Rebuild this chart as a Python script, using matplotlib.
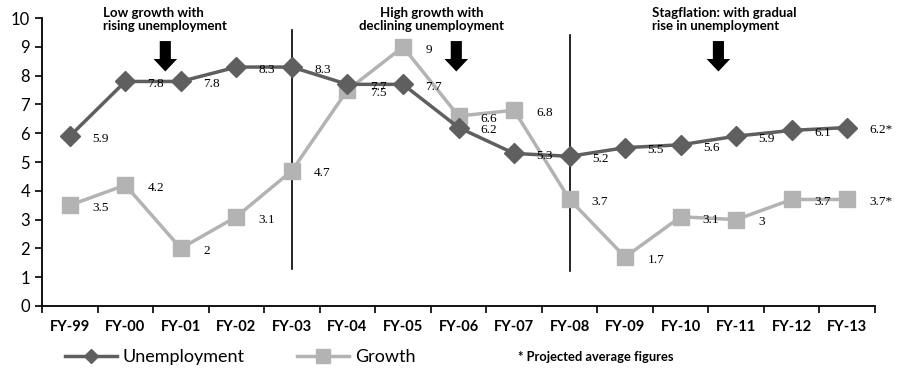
import matplotlib.pyplot as plt
from matplotlib.lines import Line2D

years = ['FY-99', 'FY-00', 'FY-01', 'FY-02', 'FY-03', 'FY-04', 'FY-05', 'FY-06',
         'FY-07', 'FY-08', 'FY-09', 'FY-10', 'FY-11', 'FY-12', 'FY-13']
unemployment = [5.9, 7.8, 7.8, 8.3, 8.3, 7.7, 7.7, 6.2, 5.3, 5.2, 5.5, 5.6, 5.9, 6.1, 6.2]
growth = [3.5, 4.2, 2, 3.1, 4.7, 7.5, 9, 6.6, 6.8, 3.7, 1.7, 3.1, 3, 3.7, 3.7]

dark = '#5f5f5f'
light = '#b3b3b3'

fig = plt.figure(figsize=(8.98, 3.70), dpi=100)
ax = fig.add_axes([0.0468, 0.173, 0.9276, 0.778])

x = list(range(len(years)))
ax.plot(x, unemployment, color=dark, lw=2.5, marker='D', ms=10, zorder=3)
ax.plot(x, growth, color=light, lw=2.5, marker='s', ms=11, zorder=2)

# value labels to the right of every point, last one flagged as projected
for i, (u, g) in enumerate(zip(unemployment, growth)):
    star = '*' if i == len(years) - 1 else ''
    for v in (u, g):
        ax.annotate(f'{v:g}' + star, (i, v), xytext=(16, -2), textcoords='offset points',
                    va='center', ha='left', fontsize=9.5, family='Liberation Serif',
                    zorder=4, annotation_clip=False)

# phase separators
ax.plot([4, 4], [1.3, 9.6], color='black', lw=1.2, zorder=1)
ax.plot([9, 9], [1.2, 9.4], color='black', lw=1.2, zorder=1)

# phase captions and arrows
notes = [(0.6, 'left', 'Low growth with\nrising unemployment', 1.72),
         (6.51, 'center', 'High growth with\ndeclining unemployment', 6.96),
         (10.49, 'left', 'Stagflation: with gradual\nrise in unemployment', 11.68)]
for tx, ha, txt, ax_x in notes:
    ax.text(tx, 9.95, txt, ha=ha, va='center', fontsize=9.5, fontweight='bold',
            family='Lato', linespacing=1.05, clip_on=False)
    ax.annotate('', xy=(ax_x, 8.05), xytext=(ax_x, 9.3),
                arrowprops=dict(arrowstyle='simple,head_width=1.7,head_length=0.9,tail_width=0.8',
                                color='black', lw=0))

ax.set_xlim(-0.5, len(years) - 0.5)
ax.set_ylim(0, 10)
ax.set_yticks(range(0, 11))
ax.set_xticks(x)
ax.set_xticklabels(years, fontweight='bold', family='Lato', fontsize=10.5)
ax.set_xticks([i - 0.5 for i in range(len(years) + 1)], minor=True)
ax.tick_params(axis='x', which='major', length=0, pad=10)
ax.tick_params(axis='x', which='minor', length=5, width=1.2, direction='out')
ax.tick_params(axis='y', length=5, width=1.2, direction='out', labelsize=12)
for lab in ax.get_yticklabels():
    lab.set_family('Lato')
for s in ['top', 'right']:
    ax.spines[s].set_visible(False)
for s in ['left', 'bottom']:
    ax.spines[s].set_linewidth(1.3)

handles = [Line2D([], [], color=dark, lw=2.5, marker='D', ms=7),
           Line2D([], [], color=light, lw=2.5, marker='s', ms=10)]
fig.legend(handles, ['Unemployment', 'Growth'], loc='center left',
           bbox_to_anchor=(0.054, 0.035), ncol=2, frameon=False,
           prop={'family': 'Lato', 'size': 13}, handlelength=2.9,
           columnspacing=2.9, handletextpad=0.3)
fig.text(0.577, 0.035, '* Projected average figures', fontsize=9.3, fontweight='bold',
         family='Lato', va='center', ha='left')

fig.savefig('out.png', dpi=100)
